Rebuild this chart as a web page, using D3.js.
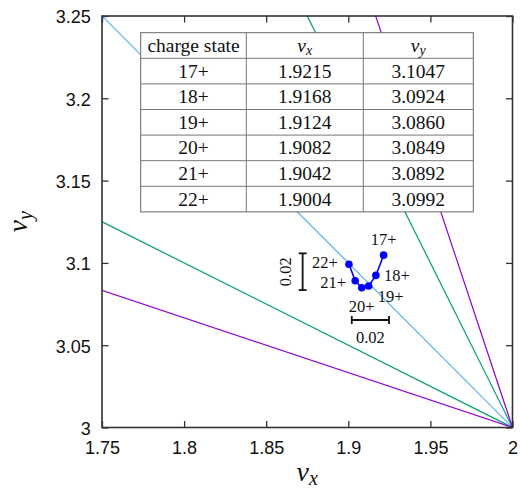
<!DOCTYPE html>
<html>
<head>
<meta charset="utf-8">
<script src="https://cdn.jsdelivr.net/npm/d3@7"></script>
<style>
  html, body { margin: 0; padding: 0; background: #fff; }
  svg { display: block; }
</style>
</head>
<body>
<svg id="chart" width="520" height="491"></svg>
<script>
// ---------- data ----------
const chargeStates = ["17+", "18+", "19+", "20+", "21+", "22+"];
const nuX = [1.9215, 1.9168, 1.9124, 1.9082, 1.9042, 1.9004];
const nuY = [3.1047, 3.0924, 3.0860, 3.0849, 3.0892, 3.0992];
const nuXText = ["1.9215", "1.9168", "1.9124", "1.9082", "1.9042", "1.9004"];
const nuYText = ["3.1047", "3.0924", "3.0860", "3.0849", "3.0892", "3.0992"];

// resonance lines  a*nux + b*nuy = c
const resA = [1, 1, 2, 1, 3];
const resB = [1, 2, 1, 3, 1];
const resC = [5, 8, 7, 11, 9];
const resColor = ["#56b4e9", "#009e73", "#009e73", "#9400d3", "#9400d3"];

const xTicks = [1.75, 1.8, 1.85, 1.9, 1.95, 2];
const yTicks = [3, 3.05, 3.1, 3.15, 3.2, 3.25];
const xTickLabels = ["1.75", "1.8", "1.85", "1.9", "1.95", "2"];
const yTickLabels = ["3", "3.05", "3.1", "3.15", "3.2", "3.25"];

// scale bars (data units)
const barV = { x: 1.8722, y0: 3.0835, y1: 3.1058, label: "0.02" };
const barH = { y: 3.0653, x0: 1.9021, x1: 1.9248, label: "0.02" };

// ---------- layout ----------
const L = 102, R = 512.5, T = 16, B = 427.5;
const svg = d3.select("#chart");
const x = d3.scaleLinear().domain([1.75, 2]).range([L, R]);
const y = d3.scaleLinear().domain([3, 3.25]).range([B, T]);

svg.append("defs").append("clipPath").attr("id", "clip")
  .append("rect").attr("x", L).attr("y", T).attr("width", R - L).attr("height", B - T);

// resonance lines
const gLines = svg.append("g").attr("clip-path", "url(#clip)");
resA.forEach((a, i) => {
  const b = resB[i], c = resC[i];
  const xs = [1.7, 2.05];
  gLines.append("line")
    .attr("x1", x(xs[0])).attr("y1", y((c - a * xs[0]) / b))
    .attr("x2", x(xs[1])).attr("y2", y((c - a * xs[1]) / b))
    .attr("stroke", resColor[i]).attr("stroke-width", 1.2);
});

// table
const colEdges = [140.7, 246.3, 363.3, 473.3];
const rowTop = 32.7, rowH = 25.6;
const nRows = chargeStates.length + 1;
const gTab = svg.append("g");
gTab.append("rect").attr("x", colEdges[0]).attr("y", rowTop)
  .attr("width", colEdges[3] - colEdges[0]).attr("height", rowH * nRows)
  .attr("fill", "#fff").attr("stroke", "#666").attr("stroke-width", 1);
for (let r = 1; r < nRows; r++) {
  gTab.append("line").attr("x1", colEdges[0]).attr("x2", colEdges[3])
    .attr("y1", rowTop + r * rowH).attr("y2", rowTop + r * rowH)
    .attr("stroke", "#777").attr("stroke-width", 1);
}
for (let c = 1; c < 3; c++) {
  gTab.append("line").attr("x1", colEdges[c]).attr("x2", colEdges[c])
    .attr("y1", rowTop).attr("y2", rowTop + rowH * nRows)
    .attr("stroke", "#777").attr("stroke-width", 1);
}
const serif = "'Liberation Serif', 'Times New Roman', serif";
function cellText(col, row) {
  return gTab.append("text")
    .attr("x", (colEdges[col] + colEdges[col + 1]) / 2)
    .attr("y", rowTop + row * rowH + rowH / 2 + 6.5)
    .attr("text-anchor", "middle")
    .attr("font-family", serif).attr("font-size", 19.5).attr("fill", "#111");
}
cellText(0, 0).text("charge state");
const h1 = cellText(1, 0).attr("font-style", "italic");
h1.append("tspan").text("ν");
h1.append("tspan").attr("font-size", 14).attr("dy", 3).text("x");
const h2 = cellText(2, 0).attr("font-style", "italic");
h2.append("tspan").text("ν");
h2.append("tspan").attr("font-size", 14).attr("dy", 3).text("y");
chargeStates.forEach((s, i) => {
  cellText(0, i + 1).text(s);
  cellText(1, i + 1).text(nuXText[i]);
  cellText(2, i + 1).text(nuYText[i]);
});

// tune points
const pts = chargeStates.map((s, i) => ({ s, x: nuX[i], y: nuY[i] }));
svg.append("path").datum(pts)
  .attr("d", d3.line().x(d => x(d.x)).y(d => y(d.y)))
  .attr("fill", "none").attr("stroke", "#0000ff").attr("stroke-width", 1.6);
svg.selectAll("circle.pt").data(pts).join("circle")
  .attr("class", "pt")
  .attr("cx", d => x(d.x)).attr("cy", d => y(d.y)).attr("r", 3.8)
  .attr("fill", "#0000ff");

// point labels (pixel offsets from the points)
const labOff = [[0, -16], [21, 0], [22, 10], [0, 18], [-22, 2], [-24, -2]];
svg.selectAll("text.lab").data(pts).join("text")
  .attr("class", "lab")
  .attr("x", (d, i) => x(d.x) + labOff[i][0])
  .attr("y", (d, i) => y(d.y) + labOff[i][1] + 5.8)
  .attr("text-anchor", "middle")
  .attr("font-family", serif).attr("font-size", 16.5).attr("fill", "#111")
  .text(d => d.s);

// scale bars
const gBar = svg.append("g").attr("stroke", "#111").attr("stroke-width", 1.8);
const cap = 4;
gBar.append("line").attr("x1", x(barV.x)).attr("x2", x(barV.x))
  .attr("y1", y(barV.y0)).attr("y2", y(barV.y1));
[barV.y0, barV.y1].forEach(v => gBar.append("line")
  .attr("x1", x(barV.x) - cap).attr("x2", x(barV.x) + cap)
  .attr("y1", y(v)).attr("y2", y(v)));
gBar.append("line").attr("x1", x(barH.x0)).attr("x2", x(barH.x1))
  .attr("y1", y(barH.y)).attr("y2", y(barH.y));
[barH.x0, barH.x1].forEach(v => gBar.append("line")
  .attr("x1", x(v)).attr("x2", x(v))
  .attr("y1", y(barH.y) - cap).attr("y2", y(barH.y) + cap));
svg.append("text")
  .attr("transform", `translate(${x(barV.x) - 17},${(y(barV.y0) + y(barV.y1)) / 2}) rotate(-90)`)
  .attr("text-anchor", "middle").attr("dy", "0.33em")
  .attr("font-family", serif).attr("font-size", 16.5).attr("fill", "#111")
  .text(barV.label);
svg.append("text")
  .attr("x", (x(barH.x0) + x(barH.x1)) / 2).attr("y", y(barH.y) + 23)
  .attr("text-anchor", "middle")
  .attr("font-family", serif).attr("font-size", 16.5).attr("fill", "#111")
  .text(barH.label);

// axes
const sans = "'Liberation Sans', Arial, Helvetica, sans-serif";
const tk = 6.5;
const axB = svg.append("g").attr("transform", `translate(0,${B})`)
  .call(d3.axisBottom(x).tickValues(xTicks).tickFormat((d, i) => xTickLabels[i])
    .tickSizeInner(-tk).tickSizeOuter(0));
axB.selectAll("text").attr("y", 26.5).attr("dy", 0);
const axL = svg.append("g").attr("transform", `translate(${L},0)`)
  .call(d3.axisLeft(y).tickValues(yTicks).tickFormat((d, i) => yTickLabels[i])
    .tickSizeInner(-tk).tickSizeOuter(0));
axL.selectAll("text").attr("x", -11.3).attr("dy", "0.38em");
svg.append("g").attr("transform", `translate(0,${T})`)
  .call(d3.axisTop(x).tickValues(xTicks).tickFormat("").tickSizeInner(-tk).tickSizeOuter(0));
svg.append("g").attr("transform", `translate(${R},0)`)
  .call(d3.axisRight(y).tickValues(yTicks).tickFormat("").tickSizeInner(-tk).tickSizeOuter(0));
svg.selectAll(".domain").remove();
svg.selectAll(".tick line").attr("stroke", "#333").attr("stroke-width", 1.3);
svg.selectAll(".tick text").attr("font-family", sans).attr("font-size", 18).attr("fill", "#111");

// frame
svg.append("rect").attr("x", L).attr("y", T).attr("width", R - L).attr("height", B - T)
  .attr("fill", "none").attr("stroke", "#333").attr("stroke-width", 1.6);

// axis titles
const xt = svg.append("text").attr("x", (L + R) / 2).attr("y", 481)
  .attr("text-anchor", "middle").attr("font-family", serif).attr("font-style", "italic")
  .attr("font-size", 28).attr("fill", "#111");
xt.append("tspan").text("ν");
xt.append("tspan").attr("font-size", 20).attr("dy", 4).text("x");
const yt = svg.append("text")
  .attr("transform", `translate(27,${(T + B) / 2}) rotate(-90)`)
  .attr("text-anchor", "middle").attr("font-family", serif).attr("font-style", "italic")
  .attr("font-size", 28).attr("fill", "#111");
yt.append("tspan").text("ν");
yt.append("tspan").attr("font-size", 20).attr("dy", 5).text("y");
</script>
</body>
</html>
